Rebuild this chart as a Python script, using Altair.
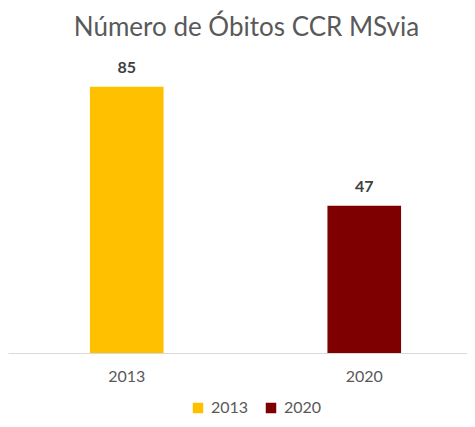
import altair as alt
import pandas as pd

years = ["2013", "2020"]
deaths = [85, 47]
colors = ["#FFC000", "#7F0000"]

df = pd.DataFrame({"ano": years, "obitos": deaths})

FONT = "Lato"

base = alt.Chart(df).encode(
    x=alt.X(
        "ano:N",
        sort=years,
        scale=alt.Scale(paddingInner=0.69, paddingOuter=0.345, range=[0, 475]),
        axis=alt.Axis(
            title=None,
            labelAngle=0,
            ticks=False,
            labelPadding=15,
            labelFontSize=16,
            labelColor="#595959",
            labelFont=FONT,
            domainColor="#D9D9D9",
            domainWidth=1,
        ),
    ),
    y=alt.Y("obitos:Q", scale=alt.Scale(domain=[0, 90], nice=False), axis=None),
)

bars = base.mark_bar().encode(
    color=alt.Color(
        "ano:N",
        scale=alt.Scale(domain=years, range=colors),
        legend=alt.Legend(
            title=None,
            orient="none",
            direction="horizontal",
            legendX=182,
            legendY=329,
            symbolType="square",
            symbolSize=110,
            symbolStrokeWidth=0,
            labelFontSize=16,
            labelColor="#595959",
            labelFont=FONT,
            columnPadding=14,
            labelOffset=5,
        ),
    )
)

labels = base.mark_text(
    baseline="bottom", dy=-11, font=FONT, fontSize=16, fontWeight="bold", color="#404040"
).encode(text="obitos:Q")

chart = (
    alt.layer(bars, labels)
    .properties(
        width=459,
        height=282,
        padding={"left": 0, "top": 63, "right": 0, "bottom": 66},
        autosize=alt.AutoSizeParams(type="none"),
        title=alt.TitleParams(
            "Número de Óbitos CCR MSvia",
            font=FONT,
            fontSize=26,
            fontWeight="normal",
            color="#595959",
            offset=19,
            dx=9,
        ),
    )
    .configure_view(stroke=None)
)

chart.save("out.html", embed_options={"renderer": "svg", "actions": False})
